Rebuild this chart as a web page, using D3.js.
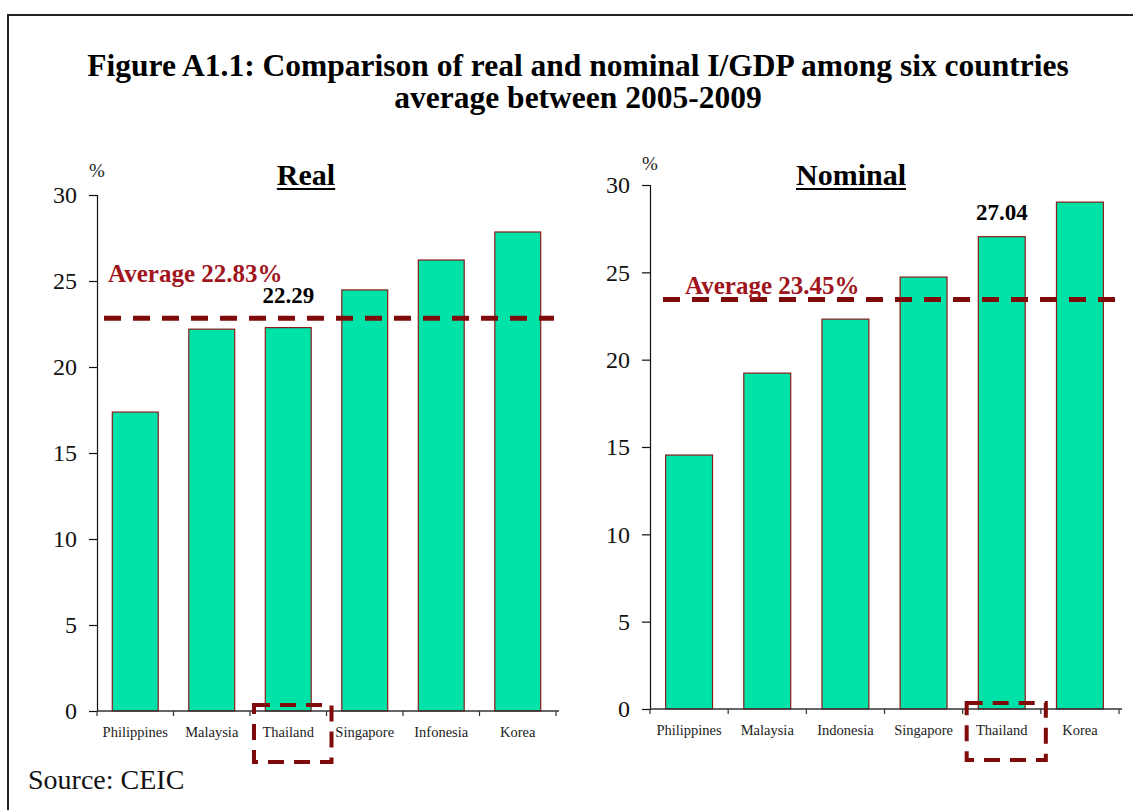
<!DOCTYPE html>
<html>
<head>
<meta charset="utf-8">
<script src="https://cdn.jsdelivr.net/npm/d3@7"></script>
<style>
  html, body { margin: 0; padding: 0; background: #fff; }
  svg { display: block; }
  text { font-family: "Liberation Serif", "Times New Roman", serif; }
</style>
</head>
<body>
<svg id="chart" width="1133" height="810"></svg>
<script>
// Real I/GDP, 2005-2009 average (%)
const realCountries = ["Philippines", "Malaysia", "Thailand", "Singapore", "Infonesia", "Korea"];
const realValues = [17.38, 22.2, 22.29, 24.48, 26.22, 27.85];
const realAverage = 22.83;

// Nominal I/GDP, 2005-2009 average (%)
const nominalCountries = ["Philippines", "Malaysia", "Indonesia", "Singapore", "Thailand", "Korea"];
const nominalValues = [14.54, 19.23, 22.32, 24.73, 27.04, 29.02];
const nominalAverage = 23.45;

const yTicks = [0, 5, 10, 15, 20, 25, 30];
const highlight = "Thailand";

const titleLines = [
  "Figure A1.1: Comparison of real and nominal I/GDP among six countries",
  "average between 2005-2009"
];

const BAR_FILL = "#00E3A8";
const BAR_STROKE = "#8B1A1A";
const AVG_COLOR = "#7F0A0A";
const AVG_TEXT = "#A0141C";

const svg = d3.select("#chart");

// Frame
svg.append("path")
  .attr("d", "M8,812 L8,15 L1140,15")
  .attr("fill", "none")
  .attr("stroke", "#222")
  .attr("stroke-width", 2);

// Title
svg.append("g").selectAll("text")
  .data(titleLines)
  .join("text")
  .attr("x", 578)
  .attr("y", (d, i) => 76 + i * 32)
  .attr("text-anchor", "middle")
  .attr("font-weight", "bold")
  .attr("font-size", 31.5)
  .attr("fill", "#000")
  .text(d => d);

// Source note
svg.append("text")
  .attr("x", 28).attr("y", 789)
  .attr("font-size", 28)
  .attr("fill", "#111")
  .text("Source: CEIC");

function panel(cfg) {
  const g = svg.append("g");
  const x = d3.scaleBand()
    .domain(cfg.categories)
    .range([cfg.x0, cfg.x1])
    .paddingInner(0.4)
    .paddingOuter(0.2);
  const y = d3.scaleLinear().domain([0, 30]).range([cfg.y0, cfg.y30]);

  // Bars
  g.selectAll("rect.bar")
    .data(cfg.values)
    .join("rect")
    .attr("class", "bar")
    .attr("x", (d, i) => x(cfg.categories[i]))
    .attr("y", d => y(d))
    .attr("width", x.bandwidth())
    .attr("height", d => y(0) - y(d))
    .attr("fill", BAR_FILL)
    .attr("stroke", BAR_STROKE)
    .attr("stroke-width", 1.2);

  // Y axis
  const yAxis = g.append("g")
    .attr("transform", `translate(${cfg.x0},0)`)
    .call(d3.axisLeft(y).tickValues(yTicks).tickSize(8).tickPadding(12).tickFormat(d3.format("d")));
  yAxis.select(".domain").attr("stroke", "#111").attr("stroke-width", 1.2);
  yAxis.selectAll(".tick line").attr("stroke", "#111").attr("stroke-width", 1.2);
  yAxis.selectAll(".tick text")
    .attr("font-family", "Liberation Serif, serif")
    .attr("font-size", 24)
    .attr("fill", "#111");

  // X axis with ticks at band boundaries
  const step = x.step();
  const edges = d3.range(cfg.categories.length + 1).map(i => cfg.x0 + i * step);
  g.append("line")
    .attr("x1", cfg.x0).attr("x2", cfg.x1 + 3)
    .attr("y1", y(0)).attr("y2", y(0))
    .attr("stroke", "#333").attr("stroke-width", 1.5);
  g.selectAll("line.xtick")
    .data(edges)
    .join("line")
    .attr("class", "xtick")
    .attr("x1", d => d).attr("x2", d => d)
    .attr("y1", y(0)).attr("y2", y(0) + 5)
    .attr("stroke", "#333").attr("stroke-width", 1.2);
  g.selectAll("text.xlab")
    .data(cfg.categories)
    .join("text")
    .attr("class", "xlab")
    .attr("x", d => x(d) + x.bandwidth() / 2)
    .attr("y", y(0) + 26)
    .attr("text-anchor", "middle")
    .attr("font-size", 14.5)
    .attr("fill", "#222")
    .text(d => d);

  // Unit label
  g.append("text")
    .attr("x", cfg.x0 - 8).attr("y", cfg.pctY)
    .attr("font-size", 19)
    .attr("fill", "#222")
    .text("%");

  // Panel heading (underlined)
  const head = g.append("text")
    .attr("x", cfg.headX).attr("y", 185)
    .attr("text-anchor", "middle")
    .attr("font-weight", "bold")
    .attr("font-size", 30)
    .attr("fill", "#000")
    .text(cfg.heading);
  const hw = head.node().getComputedTextLength();
  g.append("line")
    .attr("x1", cfg.headX - hw / 2).attr("x2", cfg.headX + hw / 2)
    .attr("y1", 189).attr("y2", 189)
    .attr("stroke", "#000").attr("stroke-width", 2);

  // Average line
  g.append("line")
    .attr("x1", cfg.avgX0).attr("x2", cfg.x1 - 2)
    .attr("y1", y(cfg.average)).attr("y2", y(cfg.average))
    .attr("stroke", AVG_COLOR)
    .attr("stroke-width", 5)
    .attr("stroke-dasharray", "17,12");
  g.append("text")
    .attr("x", cfg.avgLabelX).attr("y", y(cfg.average) - cfg.avgLabelOffset)
    .attr("font-weight", "bold")
    .attr("font-size", 25)
    .attr("fill", AVG_TEXT)
    .text(`Average ${cfg.average.toFixed(2)}%`);

  // Highlighted country: value label and dashed box around its name
  const hi = cfg.categories.indexOf(highlight);
  const hv = cfg.values[hi];
  g.append("text")
    .attr("x", x(highlight) + x.bandwidth() / 2)
    .attr("y", y(hv) - cfg.valueOffset)
    .attr("text-anchor", "middle")
    .attr("font-weight", "bold")
    .attr("font-size", 23)
    .attr("fill", "#000")
    .text(hv.toFixed(2));
  const bx = x(highlight) - step * 0.2 + 4;
  g.append("rect")
    .attr("x", bx)
    .attr("y", y(0) - 6)
    .attr("width", step + 1)
    .attr("height", 57)
    .attr("fill", "none")
    .attr("stroke", AVG_COLOR)
    .attr("stroke-width", 4)
    .attr("stroke-dasharray", "16,10");
}

panel({
  categories: realCountries, values: realValues, average: realAverage,
  x0: 97, x1: 556, y0: 711, y30: 195,
  heading: "Real", headX: 306, pctY: 177,
  avgX0: 104, avgLabelX: 108, avgLabelOffset: 36, valueOffset: 25
});

panel({
  categories: nominalCountries, values: nominalValues, average: nominalAverage,
  x0: 650, x1: 1119, y0: 709, y30: 185,
  heading: "Nominal", headX: 851, pctY: 170,
  avgX0: 663, avgLabelX: 685, avgLabelOffset: 5, valueOffset: 17
});
</script>
</body>
</html>
